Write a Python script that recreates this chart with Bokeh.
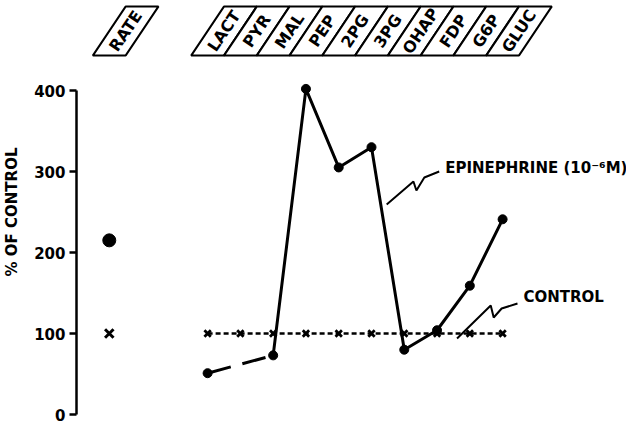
import math
from bokeh.plotting import figure
from bokeh.models import Range1d, FixedTicker
from bokeh.core.properties import value
from bokeh.embed import file_html
from bokeh.resources import INLINE

# ---------------- data ----------------
categories = ["LACT", "PYR", "MAL", "PEP", "2PG", "3PG", "OHAP", "FDP", "G6P", "GLUC"]
epinephrine = [51, None, 73, 402, 305, 330, 80, 104, 159, 241]
control = [100, 100, 100, 100, 100, 100, 100, 100, 100, 100]
rate_label = "RATE"
rate_control = 100
rate_epinephrine = 215
y_ticks = [0, 100, 200, 300, 400]
y_label = "% OF CONTROL"
epi_label = "EPINEPHRINE (10\u207b\u2076M)"
control_label = "CONTROL"

FONT = "DejaVu Sans"

# ---------------- geometry ----------------
W, H = 626, 423
LEFT = 71
X0, X1 = -4.0, 12.78
PXX = (W - LEFT) / (X1 - X0)
PXY = (422 - 98) / 400.0          # px per unit; value 0 at page y 422
Y1 = (422 - 8) / PXY
Y0 = -(8 + H - 422) / PXY


def dx(px):  # page px -> data x
    return (px - 8 - LEFT) / PXX + X0


def dy(py):  # page px -> data y
    return Y1 - (py - 8) / PXY


p = figure(width=W, height=H, output_backend="svg", toolbar_location=None,
           x_range=Range1d(X0, X1), y_range=Range1d(Y0, Y1),
           x_axis_location=None, min_border_left=LEFT, min_border_right=0,
           min_border_top=0, min_border_bottom=0)
p.outline_line_color = None
p.grid.visible = False
p.background_fill_color = "white"

ax = p.yaxis[0]
ax.ticker = FixedTicker(ticks=y_ticks)
ax.bounds = (0, 400)
ax.axis_line_width = 2.5
ax.major_tick_line_width = 2.5
ax.major_tick_out = 7
ax.major_tick_in = 0
ax.minor_tick_line_color = None
ax.major_label_standoff = 4
ax.major_label_text_font = FONT
ax.major_label_text_font_style = "bold"
ax.major_label_text_font_size = "15px"
ax.major_label_text_color = "black"
ax.axis_label = y_label
ax.axis_label_text_font = FONT
ax.axis_label_text_font_style = "bold"
ax.axis_label_text_font_size = "15px"
ax.axis_label_standoff = 10
ax.axis_label_text_color = "black"

# ---------------- header boxes ----------------
xi = list(range(len(categories)))
rate_x = -3
hb, ht = dy(63), dy(14)
slant = 1.0
box_x = [rate_x] + xi
box_lbl = [rate_label] + categories
xs = [[x - 0.5, x + 0.5, x + 0.5 + slant, x - 0.5 + slant] for x in box_x]
ys = [[hb, hb, ht, ht] for _ in box_x]
p.patches(xs, ys, fill_color="white", line_color="black", line_width=2.2)
ang = math.atan2((ht - hb) * PXY, slant * PXX)
p.text(x=[x + slant / 2 for x in box_x], y=[(hb + ht) / 2] * len(box_x), text=box_lbl,
       angle=ang, text_align="center", text_baseline="middle",
       text_font=value(FONT), text_font_style="bold", text_font_size="16px", text_color="black")

# ---------------- control ----------------
p.line(xi, control, line_color="black", line_width=2.5, line_dash="5 3")
p.scatter(xi, control, marker="x", size=9, line_color="black", line_width=2.8)

# ---------------- epinephrine ----------------
valid = [(x, v) for x, v in zip(xi, epinephrine) if v is not None]
gap_end = next(i for i in range(1, len(epinephrine))
               if epinephrine[i] is not None and epinephrine[i - 1] is None)
p.line([xi[0], xi[gap_end]], [epinephrine[0], epinephrine[gap_end]],
       line_color="black", line_width=3, line_dash="24 12")
p.line(xi[gap_end:], epinephrine[gap_end:], line_color="black", line_width=3)
p.scatter([v[0] for v in valid], [v[1] for v in valid], marker="circle", size=9,
          fill_color="black", line_color="black")

# ---------------- rate ----------------
p.scatter([rate_x], [rate_control], marker="x", size=12, line_color="black", line_width=3)
p.scatter([rate_x], [rate_epinephrine], marker="circle", size=13, fill_color="black", line_color="black")

# ---------------- labels & leaders ----------------
p.text(x=[dx(451)], y=[dy(175)], text=[epi_label], text_align="left", text_baseline="middle",
       text_font=value(FONT), text_font_style="bold", text_font_size="15px", text_color="black")
p.text(x=[dx(530)], y=[dy(304)], text=[control_label], text_align="left", text_baseline="middle",
       text_font=value(FONT), text_font_style="bold", text_font_size="15px", text_color="black")

epi_leader = [(445, 179), (430, 185), (422, 198), (419, 189), (392, 212)]
ctl_leader = [(524, 311), (508, 316), (500, 325), (497, 313), (463, 346)]
for pts in (epi_leader, ctl_leader):
    p.line([dx(a) for a, b in pts], [dy(b) for a, b in pts], line_color="black", line_width=2)

open("out.html", "w").write(file_html(p, INLINE))
